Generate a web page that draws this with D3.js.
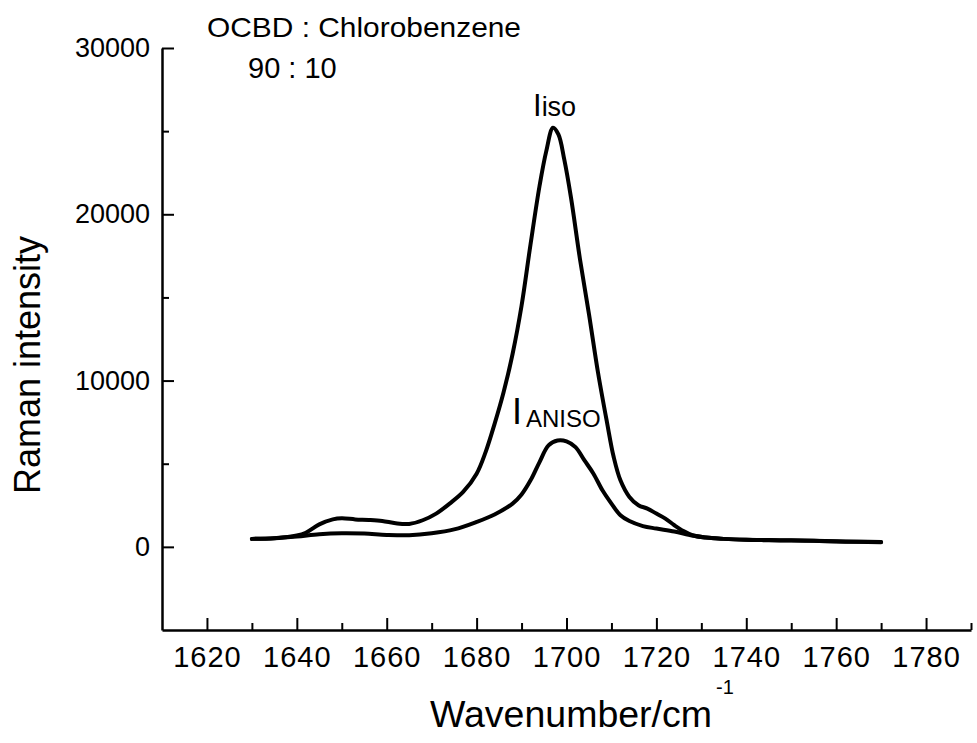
<!DOCTYPE html>
<html>
<head>
<meta charset="utf-8">
<script src="https://cdn.jsdelivr.net/npm/d3@7"></script>
<style>
  body { margin: 0; background: #fff; }
  svg { display: block; font-family: Arial, "Liberation Sans", Helvetica, sans-serif; }
</style>
</head>
<body>
<div id="chart"></div>
<script>
// wavenumber (cm-1) and intensity
var isoX = [1630, 1635, 1640, 1642, 1645, 1648, 1650, 1653, 1656, 1659, 1662, 1665, 1668, 1671, 1674, 1677,
            1680, 1682, 1684, 1686, 1688, 1690, 1692, 1694, 1695.5, 1697, 1698.2, 1699.5, 1701, 1703, 1705,
            1707, 1709, 1710.5, 1712, 1714, 1716, 1718, 1720, 1722, 1724, 1726, 1728, 1731, 1735, 1740,
            1745, 1750, 1755, 1760, 1765, 1770];
var isoY = [480, 520, 680, 850, 1350, 1650, 1720, 1650, 1620, 1560, 1420, 1380, 1600, 2000, 2600, 3300,
            4400, 5700, 7400, 9300, 11600, 14500, 18200, 21700, 23800, 25200, 24800, 23300, 21000, 17300, 14000,
            10500, 7500, 5400, 4000, 3000, 2500, 2300, 2000, 1700, 1300, 950, 700, 560, 480, 420,
            400, 380, 360, 320, 300, 280];
var anisoX = [1630, 1635, 1640, 1645, 1650, 1655, 1660, 1665, 1670, 1675, 1680, 1684, 1688, 1690, 1692,
              1694, 1696, 1698, 1700, 1702, 1704, 1706, 1708, 1710, 1712, 1714, 1717, 1720, 1724, 1728,
              1731, 1735, 1740, 1745, 1750, 1755, 1760, 1765, 1770];
var anisoY = [480, 520, 620, 760, 820, 800, 720, 700, 820, 1050, 1500, 1950, 2600, 3150, 4000,
              5100, 6100, 6400, 6350, 6000, 5200, 4400, 3400, 2600, 1900, 1550, 1250, 1100, 920, 680,
              560, 480, 430, 410, 390, 370, 330, 310, 290];

var xMajor = [1620, 1640, 1660, 1680, 1700, 1720, 1740, 1760, 1780];
var xMinor = [1630, 1650, 1670, 1690, 1710, 1730, 1750, 1770, 1790];
var yMajor = [0, 10000, 20000, 30000];
var yMinor = [5000, 15000, 25000];

var W = 977, H = 743;
var svg = d3.select("#chart").append("svg")
    .attr("width", W)
    .attr("height", H);

var x = d3.scaleLinear().domain([1610, 1790]).range([162, 971]);
var y = d3.scaleLinear().domain([-5000, 30000]).range([630, 48]);

// curves
var line = d3.line()
    .x(function(d) { return x(d[0]); })
    .y(function(d) { return y(d[1]); })
    .curve(d3.curveCatmullRom);

var iso = isoX.map(function(v, i) { return [v, isoY[i]]; });
var aniso = anisoX.map(function(v, i) { return [v, anisoY[i]]; });

[iso, aniso].forEach(function(s) {
  svg.append("path")
    .datum(s)
    .attr("d", line)
    .attr("fill", "none")
    .attr("stroke", "#000")
    .attr("stroke-width", 4)
    .attr("stroke-linejoin", "round")
    .attr("stroke-linecap", "round");
});

// x axis, ticks pointing inward
var gx = svg.append("g").attr("transform", "translate(0," + y(-5000) + ")");
gx.call(d3.axisBottom(x).tickValues(xMajor).tickSize(-12).tickSizeOuter(0).tickFormat(d3.format("d")));
gx.append("g").call(d3.axisBottom(x).tickValues(xMinor).tickSize(-7).tickSizeOuter(0).tickFormat(""))
  .select(".domain").remove();
gx.selectAll("text").attr("y", 16).attr("dy", "0.71em").attr("font-size", 29).attr("fill", "#000")
  .attr("letter-spacing", 1).attr("font-family", "Arial, 'Liberation Sans', sans-serif");

// y axis
var gy = svg.append("g").attr("transform", "translate(" + x(1610) + ",0)");
gy.call(d3.axisLeft(y).tickValues(yMajor).tickSize(-12).tickSizeOuter(0).tickFormat(d3.format("d")));
gy.append("g").call(d3.axisLeft(y).tickValues(yMinor).tickSize(-7).tickSizeOuter(0).tickFormat(""))
  .select(".domain").remove();
gy.selectAll("text").attr("x", -12).attr("font-size", 27).attr("fill", "#000")
  .attr("font-family", "Arial, 'Liberation Sans', sans-serif");

svg.selectAll(".domain").attr("stroke", "#000").attr("stroke-width", 2.5);
svg.selectAll(".tick line").attr("stroke", "#000").attr("stroke-width", 2);

// axis titles
var xt = svg.append("text")
    .attr("x", 430).attr("y", 727)
    .attr("font-size", 37.5);
xt.append("tspan").text("Wavenumber/cm");
xt.append("tspan").attr("dx", 4).attr("dy", -33).attr("font-size", 20).text("-1");

svg.append("text")
    .attr("transform", "translate(40,365) rotate(-90)")
    .attr("text-anchor", "middle")
    .attr("font-size", 36)
    .text("Raman intensity");

// annotations
svg.append("text").attr("x", 207).attr("y", 37).attr("font-size", 28)
  .attr("textLength", 314).attr("lengthAdjust", "spacingAndGlyphs").text("OCBD : Chlorobenzene");
svg.append("text").attr("x", 248).attr("y", 78).attr("font-size", 29).text("90 : 10");

var t1 = svg.append("text").attr("x", 533).attr("y", 116).attr("font-size", 31);
t1.append("tspan").text("I");
t1.append("tspan").attr("font-size", 27).text("iso");

var t2 = svg.append("text").attr("x", 512).attr("y", 424).attr("font-size", 36);
t2.append("tspan").text("I");
t2.append("tspan").attr("font-size", 24).attr("dx", 4).attr("dy", 3).text("ANISO");
</script>
</body>
</html>
